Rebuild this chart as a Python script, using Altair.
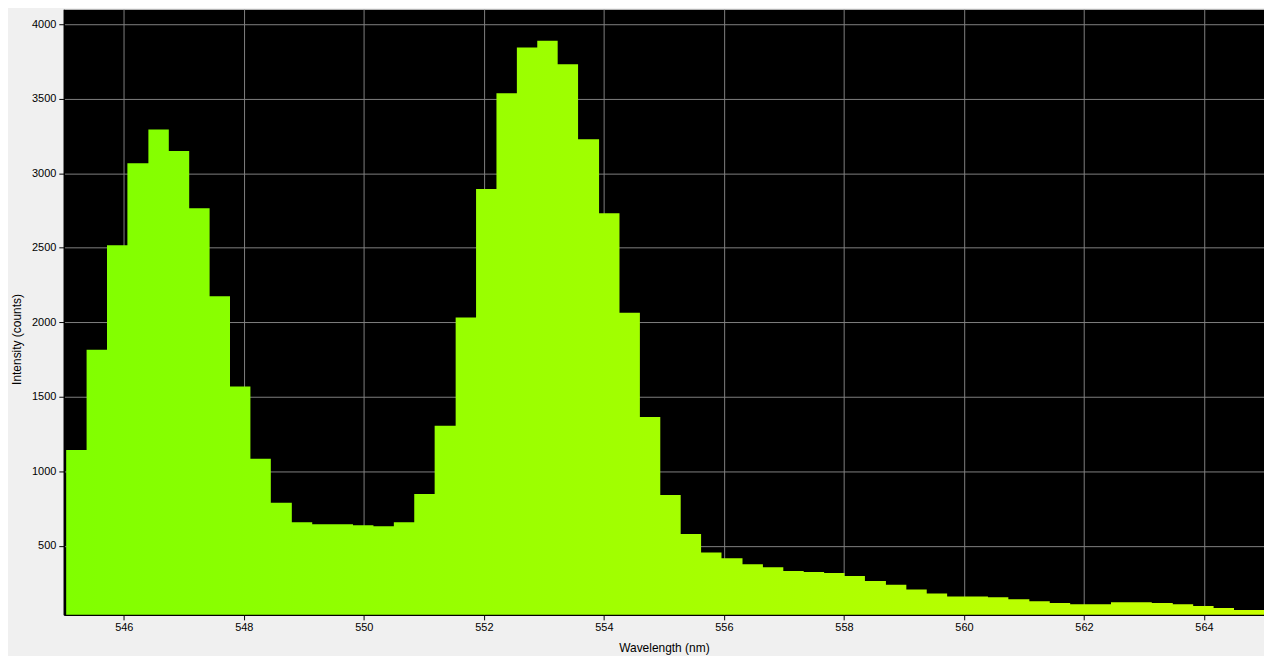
import altair as alt
import pandas as pd

# Left edge of each spectrometer bin (nm)
wavelength_start = [545.04, 545.38, 545.72, 546.06, 546.41, 546.75, 547.09, 547.43,
                    547.77, 548.11, 548.45, 548.80, 549.14, 549.48, 549.82, 550.16,
                    550.50, 550.84, 551.18, 551.53, 551.87, 552.21, 552.55, 552.89,
                    553.23, 553.57, 553.92, 554.26, 554.60, 554.94, 555.28, 555.62,
                    555.96, 556.31, 556.65, 556.99, 557.33, 557.67, 558.01, 558.35,
                    558.70, 559.04, 559.38, 559.72, 560.06, 560.40, 560.74, 561.09,
                    561.43, 561.77, 562.11, 562.45, 562.79, 563.13, 563.48, 563.82,
                    564.16, 564.50]

# Intensity (counts) of each bin
intensity = [1144, 1817, 2518, 3067, 3294, 3150, 2765, 2176, 1569, 1085,
             790, 659, 646, 646, 639, 633, 659, 848, 1307, 2033,
             2895, 3536, 3843, 3889, 3732, 3229, 2732, 2065, 1366, 842,
             580, 456, 417, 378, 358, 332, 326, 319, 299, 266,
             240, 208, 182, 162, 162, 156, 143, 130, 117, 110,
             110, 123, 123, 117, 110, 97, 84, 71]

x_ticks = [546, 548, 550, 552, 554, 556, 558, 560, 562, 564]
y_ticks = [500, 1000, 1500, 2000, 2500, 3000, 3500, 4000]
x_end_last = 565.0

# step-after area: the last bin is closed by one extra point at its right edge
df = pd.DataFrame({
    "wavelength": wavelength_start + [x_end_last],
    "counts": intensity + [intensity[-1]],
})

spectrum_fill = alt.Gradient(
    gradient="linear",
    stops=[alt.GradientStop(color="#80ff00", offset=0),
           alt.GradientStop(color="#c8ff00", offset=1)],
    x1=0, x2=1, y1=0, y2=0,
)

chart = alt.Chart(df).mark_area(
    interpolate="step-after", clip=True, color=spectrum_fill
).encode(
    x=alt.X("wavelength:Q",
            scale=alt.Scale(domain=[545, 565], nice=False, zero=False),
            axis=alt.Axis(values=x_ticks, format="d", title="Wavelength (nm)",
                          titleY=33, titleBaseline="middle", labelPadding=2)),
    y=alt.Y("counts:Q",
            scale=alt.Scale(domain=[38, 4100], nice=False, zero=False),
            axis=alt.Axis(values=y_ticks, format="d", title="Intensity (counts)",
                          titleX=-47, titleY=331, titleBaseline="middle",
                          titleAlign="center", labelPadding=3)),
    y2=alt.datum(0),
).properties(
    width=1205,
    height=608,
    autosize=alt.AutoSizeParams(type="none"),
    padding={"left": 56, "top": 0, "right": 0, "bottom": 40},
).configure(
    background="#f0f0f0",
).configure_view(
    fill="black",
    stroke="transparent",
).configure_axis(
    domainColor="black",
    domainWidth=1.5,
    tickColor="black",
    tickSize=5,
    gridColor="#808080",
    gridWidth=1,
    gridOpacity=1,
    labelFont="Liberation Sans",
    labelFontSize=11,
    labelColor="black",
    titleFont="Liberation Sans",
    titleFontSize=12,
    titleFontWeight="normal",
    titleColor="black",
)

chart.save("out.html", embed_options={"renderer": "svg", "actions": False})
